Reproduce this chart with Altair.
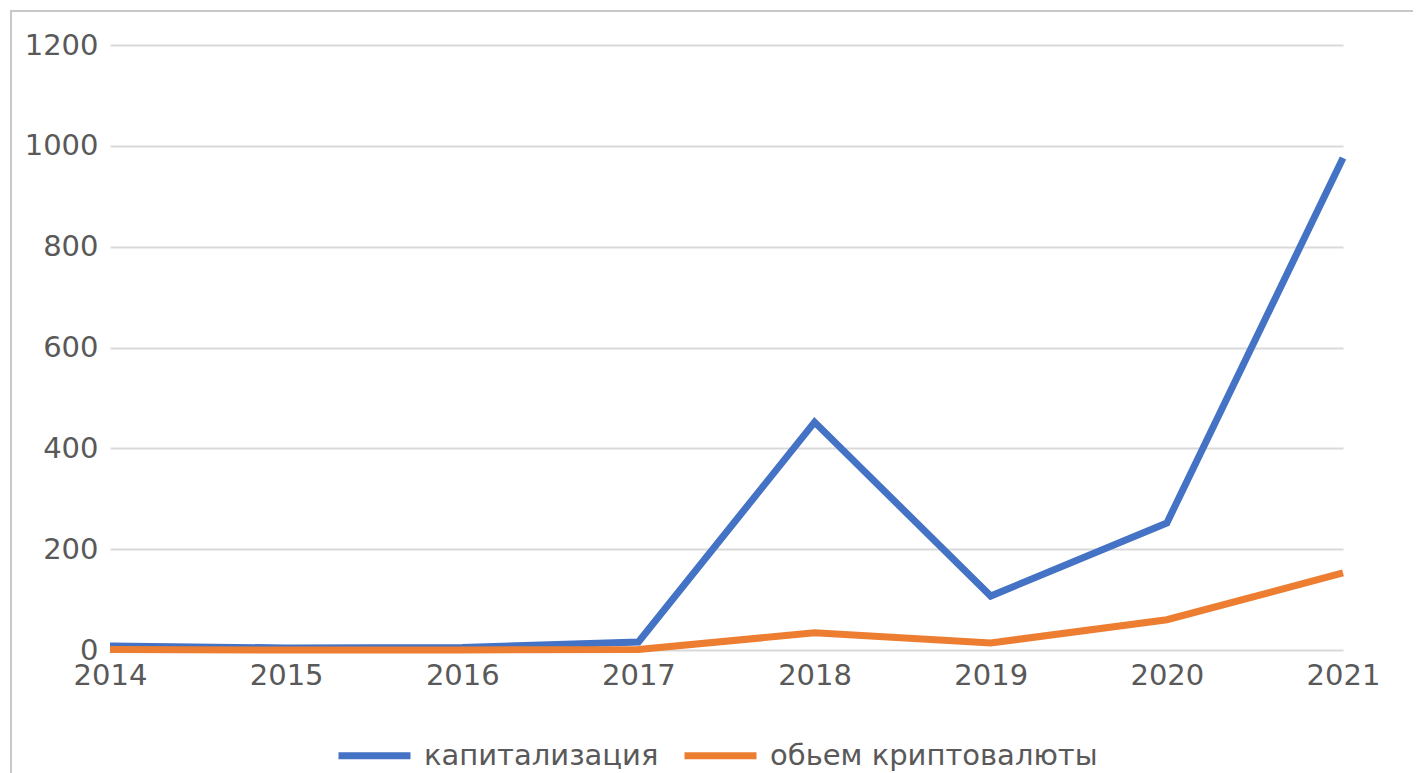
import altair as alt
import pandas as pd

years = [2014, 2015, 2016, 2017, 2018, 2019, 2020, 2021]
cap = [8, 4, 5, 16, 452, 107, 252, 976]
vol = [1, 0, 0, 1, 34, 14, 60, 153]
series_names = ["капитализация", "обьем криптовалюты"]
colors = ["#4472C4", "#ED7D31"]

rows = []
for y, c, v in zip(years, cap, vol):
    rows.append({"year": y, "value": c, "series": series_names[0]})
    rows.append({"year": y, "value": v, "series": series_names[1]})
df = pd.DataFrame(rows)

FONT = "DejaVu Sans"
TXT = "#595959"
FS = 29

lines = alt.Chart(df).mark_line(strokeWidth=7, strokeCap="butt", strokeJoin="miter").encode(
    x=alt.X("year:O", scale=alt.Scale(type="point", padding=0),
            axis=alt.Axis(format="d", title=None, grid=False, domain=False, labelAngle=0,
                          ticks=False, labelFontSize=FS, labelColor=TXT, labelFont=FONT,
                          labelPadding=11)),
    y=alt.Y("value:Q", scale=alt.Scale(domain=[0, 1200], nice=False),
            axis=alt.Axis(values=[0, 200, 400, 600, 800, 1000, 1200], format="d", title=None,
                          domain=False, ticks=False, labelFontSize=FS, labelColor=TXT,
                          labelFont=FONT, labelPadding=12, gridColor="#D9D9D9", gridWidth=2)),
    color=alt.Color("series:N", scale=alt.Scale(domain=series_names, range=colors),
                    legend=alt.Legend(title=None, orient="none", direction="horizontal",
                                      legendX=225, legendY=671, symbolType="stroke",
                                      symbolSize=5184, symbolStrokeWidth=7,
                                      labelFontSize=FS, labelColor=TXT, labelFont=FONT,
                                      labelOffset=10, columnPadding=11, labelLimit=500)),
    order=alt.Order("year:O"),
)

frame = alt.Chart(pd.DataFrame({"k": [0]})).mark_rect(
    fill=None, stroke="#C8C8C8", strokeWidth=2, clip=False
).encode(
    x=alt.value(-99), x2=alt.value(1330), y=alt.value(-34), y2=alt.value(780)
)

chart = alt.layer(frame, lines).properties(
    width=1233, height=605,
    background="white",
    autosize=alt.AutoSizeParams(type="none"),
    padding={"left": 102, "top": 37, "right": 70, "bottom": 135},
).configure_view(stroke=None)

chart.save("out.html", embed_options={"renderer": "svg", "actions": False})
